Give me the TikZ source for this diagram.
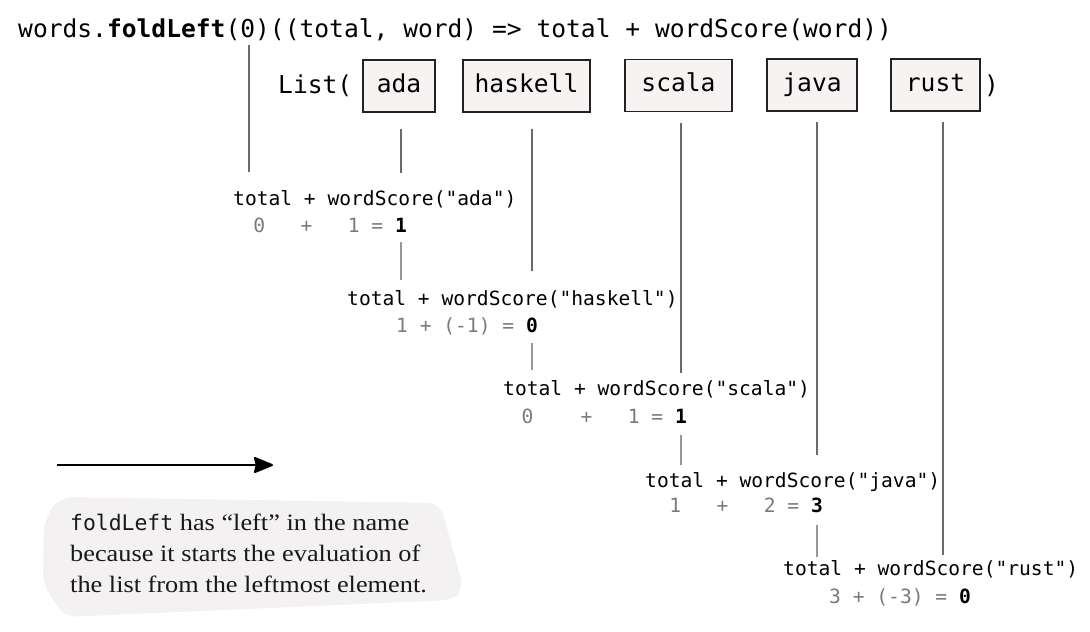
\documentclass[tikz,border=0pt]{standalone}
\usepackage{fontspec}
\setmainfont{Liberation Serif}
\newfontfamily\notefont[FakeStretch=1.12]{Liberation Serif}
\newfontfamily\codefont{DejaVu Sans Mono}
\usetikzlibrary{arrows.meta}
\definecolor{boxfill}{HTML}{F7F3F2}
\definecolor{boxline}{HTML}{222222}
\definecolor{linkgray}{HTML}{6A6A6A}
\definecolor{stubgray}{HTML}{9A9598}
\definecolor{sumgray}{HTML}{7A7A7A}
\definecolor{notefill}{HTML}{F3F1F1}
\tikzset{
  codetext/.style={font=\codefont\fontsize{24.6}{28}\selectfont, inner sep=0pt, anchor=base west},
  wordbox/.style={draw=boxline, fill=boxfill, line width=1.7pt, minimum height=52pt, inner sep=0pt,
    text height=17pt, text depth=5pt, font=\codefont\fontsize{24.6}{28}\selectfont},
  exprtext/.style={font=\codefont\fontsize{19.6}{23}\selectfont, inner sep=0pt, anchor=base west},
  sumtext/.style={exprtext, anchor=base east, text=sumgray},
  connector/.style={draw=linkgray, line width=1.4pt},
  stubline/.style={draw=stubgray, line width=1.2pt},
  notetext/.style={font=\notefont\fontsize{23.5}{31}\selectfont, inner sep=0pt, anchor=base west, text=black!90},
}

\begin{document}
\begin{tikzpicture}[x=1pt, y=-1pt]
\useasboundingbox (0,0) rectangle (1090,632);
% The call
    \node[codetext] (call) at (18,37) {words.\textbf{foldLeft}(0)((total, word) => total + wordScore(word))};
    \coordinate (zero) at (249,45);
% The list
    \node[codetext] (list) at (278,93) {List(};
    \node[wordbox, minimum width=72pt] (ada) at (399,86) {ada};
    \node[wordbox, minimum width=127pt] (haskell) at (526.5,86) {haskell};
    \node[wordbox, minimum width=107pt] (scala) at (678.5,85.5) {scala};
    \node[wordbox, minimum width=90pt] (java) at (812,85) {java};
    \node[wordbox, minimum width=89pt] (rust) at (935.5,85) {rust};
    \node[codetext] (close) at (984,93) {)};
% Steps
    \node[exprtext] (e1) at (233,205) {total + wordScore("ada")};
    \node[sumtext] (s1) at (407,232) {0~~~+~~~1~=~\textcolor{black}{\textbf{1}}};
    \node[exprtext] (e2) at (347,305) {total + wordScore("haskell")};
    \node[sumtext] (s2) at (538,332) {1~+~(-1)~=~\textcolor{black}{\textbf{0}}};
    \node[exprtext] (e3) at (503,395) {total + wordScore("scala")};
    \node[sumtext] (s3) at (687,423) {0~~~~+~~~1~=~\textcolor{black}{\textbf{1}}};
    \node[exprtext] (e4) at (645,487) {total + wordScore("java")};
    \node[sumtext] (s4) at (823,512) {1~~~+~~~2~=~\textcolor{black}{\textbf{3}}};
    \node[exprtext] (e5) at (783,575) {total + wordScore("rust")};
    \node[sumtext] (s5) at (971,603) {3~+~(-3)~=~\textcolor{black}{\textbf{0}}};
% Lines from the list into the steps
    \draw[connector] (zero) -- +(0,127);
    \draw[connector] ([xshift=2pt,yshift=-16pt]ada.south) -- +(0,44);
    \draw[connector] ([xshift=5.5pt,yshift=-16pt]haskell.south) -- +(0,142);
    \draw[connector] ([xshift=2.5pt,yshift=-10.5pt]scala.south) -- +(0,250);
    \draw[connector] ([xshift=5pt,yshift=-10pt]java.south) -- +(0,333);
    \draw[connector] ([xshift=7.5pt,yshift=-10pt]rust.south) -- +(0,433);
% Running totals passed on
    \draw[stubline] ([xshift=-6pt,yshift=-10pt]s1.base east) -- +(0,38);
    \draw[stubline] ([xshift=-6pt,yshift=-11pt]s2.base east) -- +(0,27);
    \draw[stubline] ([xshift=-6pt,yshift=-12pt]s3.base east) -- +(0,30);
    \draw[stubline] ([xshift=-6pt,yshift=-13pt]s4.base east) -- +(0,32);
% Direction
    \coordinate (arrowtail) at (57,465);
    \coordinate (arrowtip) at (273,465);
    \draw[line width=2pt, -{Stealth[length=21pt, width=17pt, inset=2pt, round]}] (arrowtail) -- (arrowtip);
% Note
    \fill[notefill, rounded corners=12pt] (44,520) -- (60,497) -- (440,503) -- (464,590) -- (452,600) -- (65,617) -- (43,585) -- cycle;
    \node[notetext] (note1) at (70,530) {{\codefont\fontsize{21.4}{25}\selectfont foldLeft} has “left” in the name};
    \node[notetext] (note2) at (70,561) {because it starts the evaluation of};
    \node[notetext] (note3) at (70,592) {the list from the leftmost element.};
\end{tikzpicture}
\end{document}
